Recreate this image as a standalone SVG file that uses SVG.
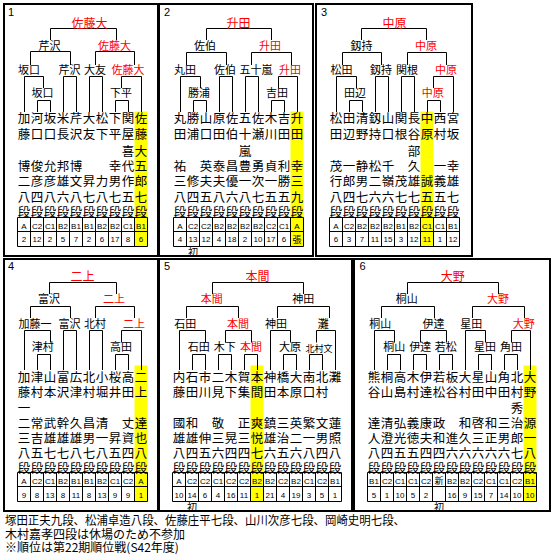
<svg xmlns="http://www.w3.org/2000/svg" width="555" height="555" viewBox="0 0 555 555">
<style>
text{font-family:"Noto Sans CJK JP","Noto Sans CJK SC",sans-serif;fill:#000}
.f{fill:none;stroke:#000;stroke-width:2}
.cn path,.tb{fill:none;stroke:#000;stroke-width:1}
.nm{font-size:12.5px;text-anchor:middle}
.lb{font-size:11px;text-anchor:middle}
.ch{font-size:12px;text-anchor:middle}
.sm{font-size:9px;text-anchor:middle}
.r{fill:#f00}
.num{font-family:"Liberation Sans",Arial,sans-serif;font-size:11px}
.tt{font-family:"Liberation Sans",Arial,sans-serif;font-size:8px;text-anchor:middle}
.tj{font-size:9px;text-anchor:middle}
.hl{fill:#ff0}
.ini{font-size:10px;text-anchor:middle}
.ft{font-size:12px}
</style>
<rect width="555" height="555" fill="#fff"/>

<!-- PANEL 1 -->
<g id="panel1">
<rect class="hl" x="134.5" y="111.5" width="13" height="135"/>
<rect class="f" x="4" y="4" width="154" height="252"/>
<text class="num" x="8" y="15.5">1</text>
<g class="cn" id="p1-connectors">
<path d="M50.5,40V28.5H116.5V40"/>
<path d="M30.5,65V51.5H70.5V65M95.5,65V51.5H134.5V65"/>
<path d="M24.5,112V76.5H43.5V88M63.5,112V76.5H76.5V112M89.5,112V76.5H102.5V112M121.5,88V76.5H141.5V112"/>
<path d="M37.5,112V100.5H50.5V112M115.5,112V100.5H128.5V112"/>
</g>
<g id="p1-final"><text class="ch r" x="89.5" y="27.5">佐藤大</text></g>
<g id="p1-sf1"><text class="lb" x="49.5" y="50">芹沢</text></g>
<g id="p1-sf2"><text class="lb r" x="114.5" y="50">佐藤大</text></g>
<g id="p1-q1"><text class="lb" x="29" y="73.5">坂口</text></g>
<g id="p1-q2"><text class="lb" x="69.5" y="73.5">芹沢</text></g>
<g id="p1-q3"><text class="lb" x="95" y="73.5">大友</text></g>
<g id="p1-q4"><text class="lb r" x="128" y="73.5">佐藤大</text></g>
<g id="p1-r1"><text class="lb" x="42.5" y="96.7">坂口</text></g>
<g id="p1-r2"><text class="lb" x="121" y="96.7">下平</text></g>
<g id="p1-players">
<text class="nm" x="24 37 50 63 76 89 102 115 128 141" y="123">加河坂米芹大松下関佐</text>
<text class="nm" x="24 37 50 63 76 89 102 115 128 141" y="139">藤口口長沢友下平屋藤</text>
<text class="nm" x="128 141" y="155.5">喜大</text>
<text class="nm" x="24 37 50 63 76 115 128 141" y="170.5">博俊允邦博幸代五</text>
<text class="nm" x="24 37 50 63 76 89 102 115 128 141" y="186.3">二彦彦雄文昇力男作郎</text>
<text class="nm" x="24 37 50 63 76 89 102 115 128 141" y="201.5">八四八六八七八七五七</text>
<text class="nm" x="24 37 50 63 76 89 102 115 128 141" y="216.5">段段段段段段段段段段</text>
</g>
<g id="p1-table">
<path class="tb" d="M17.5,217.5H147.5V246.5H17.5ZM17.5,231.5H147.5M30.5,217.5V246.5M43.5,217.5V246.5M56.5,217.5V246.5M69.5,217.5V246.5M82.5,217.5V246.5M95.5,217.5V246.5M108.5,217.5V246.5M121.5,217.5V246.5M134.5,217.5V246.5"/>
<text class="tt" y="228.5"><tspan x="24">A</tspan><tspan x="37">C2</tspan><tspan x="50">C1</tspan><tspan x="63">B2</tspan><tspan x="76">B1</tspan><tspan x="89">B1</tspan><tspan x="102">B2</tspan><tspan x="115">B2</tspan><tspan x="128">C1</tspan><tspan x="141">B1</tspan></text>
<text class="tt" y="242"><tspan x="24">2</tspan><tspan x="37">12</tspan><tspan x="50">2</tspan><tspan x="63">5</tspan><tspan x="76">7</tspan><tspan x="89">2</tspan><tspan x="102">6</tspan><tspan x="115">17</tspan><tspan x="128">8</tspan><tspan x="141">6</tspan></text>
</g>
</g>

<!-- PANEL 2 -->
<g id="panel2">
<rect class="hl" x="290.5" y="111.5" width="13" height="135"/>
<rect class="f" x="159" y="4" width="154" height="252"/>
<text class="num" x="164" y="15.5">2</text>
<g class="cn" id="p2-connectors">
<path d="M206.5,40V28.5H271.5V40"/>
<path d="M186.5,65V52.5H226.5V65M251.5,65V52.5H291.5V65"/>
<path d="M180.5,112V76.5H200.5V88M219.5,112V76.5H232.5V112M245.5,112V76.5H258.5V112M278.5,88V76.5H297.5V112"/>
<path d="M193.5,112V100.5H206.5V112M271.5,112V100.5H284.5V112"/>
</g>
<g id="p2-final"><text class="ch r" x="238.5" y="27.5">升田</text></g>
<g id="p2-sf1"><text class="lb" x="205" y="50">佐伯</text></g>
<g id="p2-sf2"><text class="lb r" x="270" y="50">升田</text></g>
<g id="p2-q1"><text class="lb" x="185" y="73.5">丸田</text></g>
<g id="p2-q2"><text class="lb" x="225" y="73.5">佐伯</text></g>
<g id="p2-q3"><text class="lb" x="256" y="73.5">五十嵐</text></g>
<g id="p2-q4"><text class="lb r" x="290" y="73.5">升田</text></g>
<g id="p2-r1"><text class="lb" x="199" y="96.7">勝浦</text></g>
<g id="p2-r2"><text class="lb" x="277" y="96.7">吉田</text></g>
<g id="p2-players">
<text class="nm" x="180 193 206 219 232 245 258 271 284 297" y="123">丸勝山原佐五佐木吉升</text>
<text class="nm" x="180 193 206 219 232 245 258 271 284 297" y="139">田浦口田伯十瀬川田田</text>
<text class="nm" x="245" y="155.5">嵐</text>
<text class="nm" x="180 206 219 232 245 258 271 284 297" y="170.5">祐英泰昌豊勇貞利幸</text>
<text class="nm" x="180 193 206 219 232 245 258 271 284 297" y="186.3">三修夫夫優一次一勝三</text>
<text class="nm" x="180 193 206 219 232 245 258 271 284 297" y="201.5">八四五八六八七五五九</text>
<text class="nm" x="180 193 206 219 232 245 258 271 284 297" y="216.5">段段段段段段段段段段</text>
</g>
<g id="p2-table">
<path class="tb" d="M173.5,217.5H303.5V246.5H173.5ZM173.5,231.5H303.5M186.5,217.5V246.5M199.5,217.5V246.5M212.5,217.5V246.5M225.5,217.5V246.5M238.5,217.5V246.5M251.5,217.5V246.5M264.5,217.5V246.5M277.5,217.5V246.5M290.5,217.5V246.5"/>
<text class="tt" y="228.5"><tspan x="180">A</tspan><tspan x="193">C2</tspan><tspan x="206">C2</tspan><tspan x="219">B2</tspan><tspan x="232">B2</tspan><tspan x="245">B2</tspan><tspan x="258">B2</tspan><tspan x="271">C2</tspan><tspan x="284">C1</tspan><tspan x="297">A</tspan></text>
<text class="tt" y="242"><tspan x="180">4</tspan><tspan x="193">13</tspan><tspan x="206">12</tspan><tspan x="219">4</tspan><tspan x="232">18</tspan><tspan x="245">2</tspan><tspan x="258">10</tspan><tspan x="271">17</tspan><tspan x="284">6</tspan></text>
<text class="tj" x="297" y="243">張</text>
</g>
<text class="ini" x="193" y="255.5">初</text>
</g>

<!-- PANEL 3 -->
<g id="panel3">
<rect class="hl" x="420.5" y="111.5" width="13" height="135"/>
<rect class="f" x="316" y="4" width="156" height="252"/>
<text class="num" x="321" y="15.5">3</text>
<g class="cn" id="p3-connectors">
<path d="M361.5,40V28.5H426.5V40"/>
<path d="M342.5,65V52.5H381.5V65M407.5,65V52.5H446.5V65"/>
<path d="M336.5,112V76.5H356.5V88M375.5,112V76.5H388.5V112M401.5,112V76.5H414.5V112M433.5,88V76.5H453.5V112"/>
<path d="M349.5,112V100.5H362.5V112M427.5,112V100.5H440.5V112"/>
</g>
<g id="p3-final"><text class="ch r" x="394.5" y="27.5">中原</text></g>
<g id="p3-sf1"><text class="lb" x="361.5" y="50">釼持</text></g>
<g id="p3-sf2"><text class="lb r" x="426" y="50">中原</text></g>
<g id="p3-q1"><text class="lb" x="341.5" y="73.5">松田</text></g>
<g id="p3-q2"><text class="lb" x="381" y="73.5">釼持</text></g>
<g id="p3-q3"><text class="lb" x="407" y="73.5">関根</text></g>
<g id="p3-q4"><text class="lb r" x="446" y="73.5">中原</text></g>
<g id="p3-r1"><text class="lb" x="355" y="96.7">田辺</text></g>
<g id="p3-r2"><text class="lb r" x="432.7" y="96.7">中原</text></g>
<g id="p3-players">
<text class="nm" x="336 349 362 375 388 401 414 427 440 453" y="123">松田清釼山関長中西宮</text>
<text class="nm" x="336 349 362 375 388 401 414 427 440 453" y="139">田辺野持口根谷原村坂</text>
<text class="nm" x="414" y="155.5">部</text>
<text class="nm" x="336 349 362 375 388 414 440 453" y="170.5">茂一静松千久一幸</text>
<text class="nm" x="336 349 362 375 388 401 414 427 440 453" y="186.3">行郎男二嶺茂雄誠義雄</text>
<text class="nm" x="336 349 362 375 388 401 414 427 440 453" y="201.5">八四七六六七七五五七</text>
<text class="nm" x="336 349 362 375 388 401 414 427 440 453" y="216.5">段段段段段段段段段段</text>
</g>
<g id="p3-table">
<path class="tb" d="M329.5,217.5H459.5V246.5H329.5ZM329.5,231.5H459.5M342.5,217.5V246.5M355.5,217.5V246.5M368.5,217.5V246.5M381.5,217.5V246.5M394.5,217.5V246.5M407.5,217.5V246.5M420.5,217.5V246.5M433.5,217.5V246.5M446.5,217.5V246.5"/>
<text class="tt" y="228.5"><tspan x="336">A</tspan><tspan x="349">C2</tspan><tspan x="362">B2</tspan><tspan x="375">B2</tspan><tspan x="388">B2</tspan><tspan x="401">B1</tspan><tspan x="414">B2</tspan><tspan x="427">C1</tspan><tspan x="440">C1</tspan><tspan x="453">B1</tspan></text>
<text class="tt" y="242"><tspan x="336">6</tspan><tspan x="349">3</tspan><tspan x="362">7</tspan><tspan x="375">11</tspan><tspan x="388">15</tspan><tspan x="401">3</tspan><tspan x="414">12</tspan><tspan x="427">11</tspan><tspan x="440">1</tspan><tspan x="453">12</tspan></text>
</g>
</g>

<!-- PANEL 4 -->
<g id="panel4">
<rect class="hl" x="134.5" y="365.5" width="13" height="136"/>
<rect class="f" x="4" y="259" width="154" height="252"/>
<text class="num" x="8" y="270">4</text>
<g class="cn" id="p4-connectors">
<path d="M49.5,294V282.5H116.5V294"/>
<path d="M30.5,318V306.5H70.5V318M95.5,318V306.5H134.5V318"/>
<path d="M24.5,370V330.5H50.5V342.5M63.5,370V330.5H76.5V370M89.5,370V330.5H102.5V370M121.5,342.5V330.5H141.5V370"/>
<path d="M37.5,370V354.5H50.5V370M115.5,370V354.5H128.5V370"/>
</g>
<g id="p4-final"><text class="ch r" x="82.5" y="281.2">二上</text></g>
<g id="p4-sf1"><text class="lb" x="49" y="303.3">富沢</text></g>
<g id="p4-sf2"><text class="lb r" x="114" y="303.3">二上</text></g>
<g id="p4-q1"><text class="lb" x="35" y="328">加藤一</text></g>
<g id="p4-q2"><text class="lb" x="69.5" y="328">富沢</text></g>
<g id="p4-q3"><text class="lb" x="95" y="328">北村</text></g>
<g id="p4-q4"><text class="lb r" x="134" y="328">二上</text></g>
<g id="p4-r1"><text class="lb" x="42.7" y="351.3">津村</text></g>
<g id="p4-r2"><text class="lb" x="121" y="351.3">高田</text></g>
<g id="p4-players">
<text class="nm" x="24 37 50 63 76 89 102 115 128 141" y="381.5">加津山富広北小桜高二</text>
<text class="nm" x="24 37 50 63 76 89 102 115 128 141" y="397.2">藤村本沢津村堀井田上</text>
<text class="nm" x="24" y="413">一</text>
<text class="nm" x="24 37 50 63 76 89 102 128 141" y="427.8">二常武幹久昌清丈達</text>
<text class="nm" x="24 37 50 63 76 89 102 115 128 141" y="443">三吉雄雄雄男一昇資也</text>
<text class="nm" x="24 37 50 63 76 89 102 115 128 141" y="458">八五七七八七八五四八</text>
<text class="nm" x="24 37 50 63 76 89 102 115 128 141" y="473">段段段段段段段段段段</text>
</g>
<g id="p4-table">
<path class="tb" d="M17.5,472.5H147.5V501.5H17.5ZM17.5,486.5H147.5M30.5,472.5V501.5M43.5,472.5V501.5M56.5,472.5V501.5M69.5,472.5V501.5M82.5,472.5V501.5M95.5,472.5V501.5M108.5,472.5V501.5M121.5,472.5V501.5M134.5,472.5V501.5"/>
<text class="tt" y="483.5"><tspan x="24">A</tspan><tspan x="37">C2</tspan><tspan x="50">C1</tspan><tspan x="63">B2</tspan><tspan x="76">B1</tspan><tspan x="89">B1</tspan><tspan x="102">B2</tspan><tspan x="115">C1</tspan><tspan x="128">C2</tspan><tspan x="141">A</tspan></text>
<text class="tt" y="497.5"><tspan x="24">9</tspan><tspan x="37">8</tspan><tspan x="50">13</tspan><tspan x="63">8</tspan><tspan x="76">11</tspan><tspan x="89">8</tspan><tspan x="102">13</tspan><tspan x="115">9</tspan><tspan x="128">9</tspan><tspan x="141">1</tspan></text>
</g>
</g>

<!-- PANEL 5 -->
<g id="panel5">
<rect class="hl" x="250.5" y="365.5" width="13" height="136"/>
<rect class="f" x="159" y="259" width="193" height="252"/>
<text class="num" x="164" y="270">5</text>
<g class="cn" id="p5-connectors">
<path d="M212.5,294V282.5H303.5V294"/>
<path d="M186.5,318V306.5H238.5V318M277.5,318V306.5H329.5V318"/>
<path d="M179.5,370V330.5H205.5V342.5M225.5,342.5V330.5H251.5V342.5M270.5,370V330.5H290.5V342.5M316.5,342.5V330.5H335.5V370"/>
<path d="M192.5,370V354.5H205.5V370M218.5,370V354.5H231.5V370M244.5,370V354.5H257.5V370M283.5,370V354.5H296.5V370M309.5,370V354.5H322.5V370"/>
</g>
<g id="p5-final"><text class="ch r" x="257.5" y="281.2">本間</text></g>
<g id="p5-sf1"><text class="lb r" x="211.7" y="303.3">本間</text></g>
<g id="p5-sf2"><text class="lb" x="303.3" y="303.3">神田</text></g>
<g id="p5-q1"><text class="lb" x="185.3" y="328">石田</text></g>
<g id="p5-q2"><text class="lb r" x="238" y="328">本間</text></g>
<g id="p5-q3"><text class="lb" x="276" y="328">神田</text></g>
<g id="p5-q4"><text class="lb" x="323.3" y="328">灘</text></g>
<g id="p5-r1"><text class="lb" x="198.7" y="351.3">石田</text></g>
<g id="p5-r2"><text class="lb" x="224.7" y="351.3">木下</text></g>
<g id="p5-r3"><text class="lb r" x="251" y="351.3">本間</text></g>
<g id="p5-r4"><text class="lb" x="290" y="351.3">大原</text></g>
<g id="p5-r5"><text class="sm" x="319" y="351.5">北村文</text></g>
<g id="p5-players">
<text class="nm" x="179 192 205 218 231 244 257 270 283 296 309 322 335" y="381.5">内石市二木賀本神橋大南北灘</text>
<text class="nm" x="179 192 205 218 231 244 257 270 283 296 309 322" y="397.2">藤田川見下集間田本原口村</text>
<text class="nm" x="179 192 218 244 257 270 283 296 309 322 335" y="427.8">國和敬正爽鎮三英繁文蓮</text>
<text class="nm" x="179 192 205 218 231 244 257 270 283 296 309 322 335" y="443">雄雄伸三晃三悦雄治二一男照</text>
<text class="nm" x="179 192 205 218 231 244 257 270 283 296 309 322 335" y="458">八四五六四四七六五六八四八</text>
<text class="nm" x="179 192 205 218 231 244 257 270 283 296 309 322 335" y="473">段段段段段段段段段段段段段</text>
</g>
<g id="p5-table">
<path class="tb" d="M172.5,472.5H341.5V501.5H172.5ZM172.5,486.5H341.5M185.5,472.5V501.5M198.5,472.5V501.5M211.5,472.5V501.5M224.5,472.5V501.5M237.5,472.5V501.5M250.5,472.5V501.5M263.5,472.5V501.5M276.5,472.5V501.5M289.5,472.5V501.5M302.5,472.5V501.5M315.5,472.5V501.5M328.5,472.5V501.5"/>
<text class="tt" y="483.5"><tspan x="179">A</tspan><tspan x="192">C2</tspan><tspan x="205">C2</tspan><tspan x="218">C1</tspan><tspan x="231">C2</tspan><tspan x="244">C2</tspan><tspan x="257">B2</tspan><tspan x="270">B2</tspan><tspan x="283">C2</tspan><tspan x="296">B2</tspan><tspan x="309">C1</tspan><tspan x="322">C2</tspan><tspan x="335">B1</tspan></text>
<text class="tt" y="497.5"><tspan x="179">10</tspan><tspan x="192">14</tspan><tspan x="205">6</tspan><tspan x="218">4</tspan><tspan x="231">16</tspan><tspan x="244">11</tspan><tspan x="257">1</tspan><tspan x="270">21</tspan><tspan x="283">4</tspan><tspan x="296">19</tspan><tspan x="309">3</tspan><tspan x="322">5</tspan><tspan x="335">1</tspan></text>
</g>
<text class="ini" x="192" y="510.5">初</text>
</g>

<!-- PANEL 6 -->
<g id="panel6">
<rect class="hl" x="523.5" y="365.5" width="13" height="136"/>
<rect class="f" x="354" y="259" width="196" height="252"/>
<text class="num" x="359.5" y="270">6</text>
<g class="cn" id="p6-connectors">
<path d="M407.5,294V282.5H498.5V294"/>
<path d="M381.5,318V306.5H434.5V318M472.5,318V306.5H524.5V318"/>
<path d="M374.5,370V330.5H394.5V342.5M420.5,342.5V330.5H446.5V342.5M465.5,370V330.5H485.5V342.5M511.5,342.5V330.5H530.5V370"/>
<path d="M387.5,370V354.5H400.5V370M413.5,370V354.5H426.5V370M439.5,370V354.5H452.5V370M478.5,370V354.5H491.5V370M504.5,370V354.5H517.5V370"/>
</g>
<g id="p6-final"><text class="ch r" x="452.7" y="281.2">大野</text></g>
<g id="p6-sf1"><text class="lb" x="406.8" y="303.3">桐山</text></g>
<g id="p6-sf2"><text class="lb r" x="498" y="303.3">大野</text></g>
<g id="p6-q1"><text class="lb" x="380.2" y="328">桐山</text></g>
<g id="p6-q2"><text class="lb" x="433.5" y="328">伊達</text></g>
<g id="p6-q3"><text class="lb" x="471.3" y="328">星田</text></g>
<g id="p6-q4"><text class="lb r" x="523.8" y="328">大野</text></g>
<g id="p6-r1"><text class="lb" x="394.3" y="351.3">桐山</text></g>
<g id="p6-r2"><text class="lb" x="420.2" y="351.3">伊達</text></g>
<g id="p6-r3"><text class="lb" x="445.8" y="351.3">若松</text></g>
<g id="p6-r4"><text class="lb" x="485" y="351.3">星田</text></g>
<g id="p6-r5"><text class="lb" x="511" y="351.3">角田</text></g>
<g id="p6-players">
<text class="nm" x="374 387 400 413 426 439 452 465 478 491 504 517 530" y="381.5">熊桐高木伊若板大星山角北大</text>
<text class="nm" x="374 387 400 413 426 439 452 465 478 491 504 517 530" y="397.2">谷山島村達松谷村田中田村野</text>
<text class="nm" x="517" y="413">秀</text>
<text class="nm" x="374 387 400 413 426 439 465 478 491 504 517 530" y="427.8">達清弘義康政和啓和三治源</text>
<text class="nm" x="374 387 400 413 426 439 452 465 478 491 504 517 530" y="443">人澄光徳夫和進久三正男郎一</text>
<text class="nm" x="374 387 400 413 426 439 452 465 478 491 504 517 530" y="458">八四五五四四六六六六六七八</text>
<text class="nm" x="374 387 400 413 426 439 452 465 478 491 504 517 530" y="473">段段段段段段段段段段段段段</text>
</g>
<g id="p6-table">
<path class="tb" d="M367.5,472.5H536.5V501.5H367.5ZM367.5,486.5H536.5M380.5,472.5V501.5M393.5,472.5V501.5M406.5,472.5V501.5M419.5,472.5V501.5M432.5,472.5V501.5M445.5,472.5V501.5M458.5,472.5V501.5M471.5,472.5V501.5M484.5,472.5V501.5M497.5,472.5V501.5M510.5,472.5V501.5M523.5,472.5V501.5"/>
<text class="tt" y="483.5"><tspan x="374">B1</tspan><tspan x="387">C2</tspan><tspan x="400">C1</tspan><tspan x="413">C1</tspan><tspan x="426">C2</tspan><tspan x="452">B2</tspan><tspan x="465">B2</tspan><tspan x="478">C2</tspan><tspan x="491">C1</tspan><tspan x="504">C1</tspan><tspan x="517">C2</tspan><tspan x="530">B1</tspan></text>
<text class="tj" x="439" y="484">新</text>
<text class="tt" y="497.5"><tspan x="374">5</tspan><tspan x="387">1</tspan><tspan x="400">10</tspan><tspan x="413">5</tspan><tspan x="426">2</tspan><tspan x="452">16</tspan><tspan x="465">9</tspan><tspan x="478">15</tspan><tspan x="491">7</tspan><tspan x="504">14</tspan><tspan x="517">10</tspan><tspan x="530">10</tspan></text>
</g>
<text class="ini" x="439" y="510.5">初</text>
</g>

<g id="footer">
<text class="ft" x="5" y="524.5" textLength="400" lengthAdjust="spacingAndGlyphs">塚田正夫九段、松浦卓造八段、佐藤庄平七段、山川次彦七段、岡崎史明七段、</text>
<text class="ft" x="5" y="538.5">木村嘉孝四段は休場のため不参加</text>
<text class="ft" x="5" y="552">※順位は第22期順位戦(S42年度)</text>
</g>
</svg>
